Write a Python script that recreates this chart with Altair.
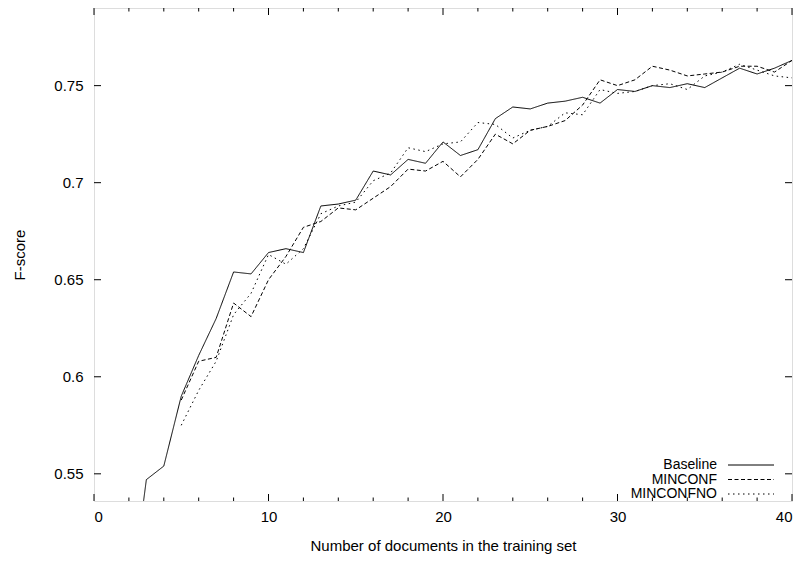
import altair as alt
import pandas as pd

SERIES = ["Baseline", "MINCONF", "MINCONFNO"]

BASELINE_X = list(range(2, 41))
BASELINE = [0.478, 0.547, 0.554, 0.590, 0.611, 0.630, 0.654, 0.653, 0.664, 0.666,
            0.664, 0.688, 0.689, 0.691, 0.706, 0.704, 0.712, 0.710, 0.721, 0.714,
            0.717, 0.733, 0.739, 0.738, 0.741, 0.742, 0.744, 0.741, 0.748, 0.747,
            0.750, 0.749, 0.751, 0.749, 0.754, 0.759, 0.756, 0.759, 0.763]

MINCONF_X = list(range(5, 41))
MINCONF = [0.588, 0.608, 0.610, 0.638, 0.631, 0.650, 0.662, 0.677, 0.680, 0.687,
           0.686, 0.692, 0.698, 0.707, 0.706, 0.711, 0.703, 0.712, 0.725, 0.720,
           0.727, 0.729, 0.732, 0.740, 0.753, 0.750, 0.753, 0.760, 0.758, 0.755,
           0.756, 0.757, 0.760, 0.760, 0.757, 0.763]

MINCONFNO_X = list(range(5, 41))
MINCONFNO = [0.575, 0.593, 0.608, 0.632, 0.643, 0.663, 0.658, 0.666, 0.684, 0.688,
             0.690, 0.701, 0.705, 0.718, 0.716, 0.720, 0.721, 0.731, 0.730, 0.723,
             0.727, 0.729, 0.736, 0.735, 0.748, 0.746, 0.747, 0.750, 0.751, 0.748,
             0.755, 0.757, 0.761, 0.758, 0.755, 0.754]

X_MAJOR = [0, 10, 20, 30, 40]
X_MINOR = [2, 4, 6, 8, 12, 14, 16, 18, 22, 24, 26, 28, 32, 34, 36, 38]
Y_TICKS = [0.55, 0.6, 0.65, 0.7, 0.75]
X_DOMAIN = [0, 40]
Y_DOMAIN = [0.536, 0.79]

W, H = 698, 493
FONT = "Liberation Sans"
TICK = 7
MINOR = 3.5

rows = []
for name, xs, ys in [("Baseline", BASELINE_X, BASELINE),
                     ("MINCONF", MINCONF_X, MINCONF),
                     ("MINCONFNO", MINCONFNO_X, MINCONFNO)]:
    for a, b in zip(xs, ys):
        rows.append({"series": name, "x": a, "f": b})
df = pd.DataFrame(rows)

x_scale = alt.Scale(domain=X_DOMAIN, nice=False, zero=False)
y_scale = alt.Scale(domain=Y_DOMAIN, nice=False, zero=False)
dash_scale = alt.Scale(domain=SERIES, range=[[1, 0], [4, 2.5], [1.5, 3.5]])

x_axis = alt.Axis(values=X_MAJOR, format="d", title="Number of documents in the training set",
                  ticks=False, tickSize=0, domain=False, grid=False, labelPadding=8,
                  titlePadding=14, labelFont=FONT, titleFont=FONT, labelFontSize=15,
                  titleFontSize=15, titleFontWeight="normal", labelColor="black",
                  titleColor="black")
y_axis = alt.Axis(values=Y_TICKS, format="~g", title="F-score",
                  ticks=False, tickSize=0, domain=False, grid=False, labelPadding=11,
                  titlePadding=26, labelFont=FONT, titleFont=FONT, labelFontSize=15,
                  titleFontSize=15, titleFontWeight="normal", labelColor="black",
                  titleColor="black")

lines = alt.Chart(df).mark_line(color="black", strokeWidth=1, clip=True).encode(
    x=alt.X("x:Q", scale=x_scale, axis=x_axis),
    y=alt.Y("f:Q", scale=y_scale, axis=y_axis),
    strokeDash=alt.StrokeDash("series:N", scale=dash_scale, legend=None),
    detail="series:N",
)

ydf = pd.DataFrame({"f": Y_TICKS})
xmaj = pd.DataFrame({"x": X_MAJOR})
xmin = pd.DataFrame({"x": X_MINOR})

def yt(x0, x1):
    return alt.Chart(ydf).mark_rule(color="black", strokeWidth=1).encode(
        y=alt.Y("f:Q", scale=y_scale, axis=None), x=alt.value(x0), x2=alt.value(x1))

def xt(d, y0, y1):
    return alt.Chart(d).mark_rule(color="black", strokeWidth=1).encode(
        x=alt.X("x:Q", scale=x_scale, axis=x_axis), y=alt.value(y0), y2=alt.value(y1))

ticks = [yt(0, TICK), yt(W - TICK, W),
         xt(xmaj, H, H - TICK), xt(xmaj, 0, TICK),
         xt(xmin, H, H - MINOR), xt(xmin, 0, MINOR)]

leg = pd.DataFrame({"series": SERIES})
leg_y = alt.Y("series:N", scale=alt.Scale(type="point", domain=SERIES, range=[457, 486], padding=0), axis=None)
leg_text = alt.Chart(leg).mark_text(align="right", baseline="middle", font=FONT, fontSize=14,
                                    color="black").encode(
    y=leg_y, x=alt.value(623), text="series:N")
leg_line = alt.Chart(leg).mark_rule(color="black", strokeWidth=1).encode(
    y=leg_y, x=alt.value(634), x2=alt.value(680),
    strokeDash=alt.StrokeDash("series:N", scale=dash_scale, legend=None))

chart = alt.layer(lines, *ticks, leg_text, leg_line).resolve_scale(y="independent").properties(
    width=W, height=H,
    autosize=alt.AutoSizeParams(type="none"),
    padding={"left": 86, "top": 0, "right": 4, "bottom": 55},
).configure_view(stroke="black", strokeWidth=1.5).configure(background="white")

chart.save("out.html", embed_options={"renderer": "svg", "actions": False})
